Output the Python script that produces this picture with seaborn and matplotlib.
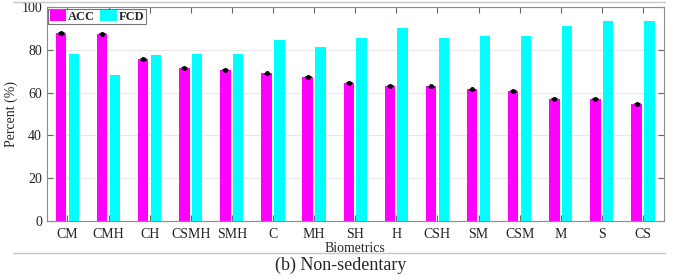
import pandas as pd
import matplotlib
matplotlib.use("Agg")
import matplotlib.pyplot as plt
from matplotlib.lines import Line2D
import seaborn as sns


# Data
biometrics = ['CM', 'CMH', 'CH', 'CSMH', 'SMH', 'C', 'MH', 'SH',
              'H', 'CSH', 'SM', 'CSM', 'M', 'S', 'CS']
acc = [87.9, 87.6, 75.7, 71.5, 70.7, 69.1, 67.5, 64.6,
       63.2, 62.9, 61.5, 60.7, 57.2, 57.1, 54.7]
fcd = [78.2, 68.3, 77.4, 78.2, 78.2, 84.6, 81.6, 85.5,
       90.4, 85.5, 86.3, 86.3, 91.3, 93.5, 93.5]
acc_err = [0.3] * len(biometrics)

df = pd.DataFrame({'Biometrics': biometrics * 2,
                   'Percent': acc + fcd,
                   'Metric': ['ACC'] * len(acc) + ['FCD'] * len(fcd)})

# Plot
sns.set_style("ticks", {'axes.grid': True,
                        'grid.color': '#e8e8e8',
                        'axes.edgecolor': '#8c8c8c'})
plt.rcParams['font.family'] = ['Liberation Serif', 'DejaVu Serif']

fig, ax = plt.subplots(figsize=(6.89, 2.79), dpi=100)
plt.subplots_adjust(left=0.068, right=0.963, top=0.974, bottom=0.209)

sns.barplot(data=df, x='Biometrics', y='Percent', hue='Metric',
            palette=['#ff00ff', '#00ffff'], saturation=1,
            width=0.62, gap=0.18, linewidth=0,
            errorbar=None, ax=ax, zorder=2)

# error bars on the ACC bars
acc_bars = ax.patches[:len(acc)]
xs = [p.get_x() + p.get_width() / 2 for p in acc_bars]
ax.errorbar(xs, acc, yerr=acc_err, fmt='o', color='black', ms=2.5,
            capsize=2.5, elinewidth=0.8, capthick=0.8, zorder=3)

ax.set_xlim(-0.5, len(biometrics) - 0.5)
ax.set_ylim(0, 100)
ax.set_yticks(range(0, 101, 20))
ax.set_ylabel('Percent (%)', fontsize=10, labelpad=2)
ax.set_xlabel('Biometrics', fontsize=10, labelpad=1)
ax.set_axisbelow(True)

for s in ax.spines.values():
    s.set_visible(True)
    s.set_color('#8c8c8c')
    s.set_linewidth(0.8)

ax.tick_params(axis='both', direction='in', length=4, width=0.8,
               color='#666666', labelsize=10, labelcolor='#222222',
               top=True, right=True)
ax.tick_params(axis='x', pad=5)

leg = ax.legend(loc='upper left', ncol=2, frameon=True, fancybox=False,
                handlelength=1.35, handleheight=1.0, handletextpad=0.15,
                columnspacing=0.35, borderpad=0.12, borderaxespad=0.1,
                prop={'weight': 'bold', 'size': 9})
leg.get_frame().set_edgecolor('#555555')
leg.get_frame().set_linewidth(0.8)

# caption and separator lines
fig.add_artist(Line2D([0.019, 0.965], [0.993, 0.993], color='#c8c8c8', lw=1))
fig.add_artist(Line2D([0.019, 0.965], [0.093, 0.093], color='#c8c8c8', lw=1))
fig.text(0.494, 0.05, '(b) Non-sedentary', ha='center', va='center',
         fontsize=13)

plt.savefig('out.png', dpi=100)
